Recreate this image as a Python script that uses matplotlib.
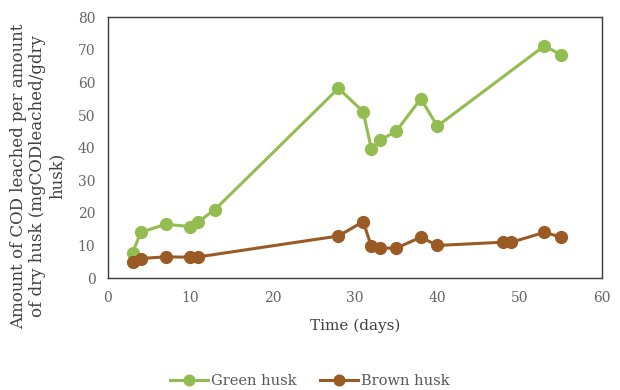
import matplotlib
matplotlib.use('Agg')
import matplotlib.pyplot as plt

# COD leached over time for the two husk types
green_days = [3, 4, 7, 10, 11, 13, 28, 31, 32, 33, 35, 38, 40, 53, 55]
green_cod = [7.8, 14.0, 16.5, 15.8, 17.3, 21.0, 58.2, 51.0, 39.5, 42.2, 45.0, 55.0, 46.6, 71.2, 68.5]

brown_days = [3, 4, 7, 10, 11, 28, 31, 32, 33, 35, 38, 40, 48, 49, 53, 55]
brown_cod = [5.0, 6.0, 6.5, 6.4, 6.5, 12.9, 17.3, 9.7, 9.2, 9.2, 12.5, 10.0, 11.0, 11.0, 14.0, 12.6]

x_ticks = [0, 10, 20, 30, 40, 50, 60]
y_ticks = [0, 10, 20, 30, 40, 50, 60, 70, 80]

GREEN = '#93BD50'
BROWN = '#9A5A24'
TEXT = '#404040'

plt.rcParams['font.family'] = ['DejaVu Serif']

fig = plt.figure(figsize=(6.2, 3.9), dpi=100)
ax = fig.add_axes([0.174, 0.287, 0.797, 0.669])

ax.plot(green_days, green_cod, color=GREEN, lw=2.2, marker='o', ms=8.5, label='Green husk')
ax.plot(brown_days, brown_cod, color=BROWN, lw=2.2, marker='o', ms=8.5, label='Brown husk')

ax.set_xlim(0, 60)
ax.set_ylim(0, 80)
ax.set_xticks(x_ticks)
ax.set_yticks(y_ticks)
ax.tick_params(length=0, labelsize=10, labelcolor='#666666', pad=9)
for sp in ax.spines.values():
    sp.set_color('#3a3a3a')
    sp.set_linewidth(1.0)

ax.set_xlabel('Time (days)', fontsize=11, color=TEXT, labelpad=10)
ax.set_ylabel('Amount of COD leached per amount\nof dry husk (mgCODleached/gdry\nhusk)',
              fontsize=12, color=TEXT, linespacing=1.2)
ax.yaxis.set_label_coords(-0.085, 0.39)

fig.legend(loc='center', bbox_to_anchor=(0.5, 0.022), ncol=2, frameon=False,
           fontsize=10.5, labelcolor='#595959', handlelength=2.6, handletextpad=0.2,
           columnspacing=1.6, markerscale=0.9)

fig.savefig('out.png', dpi=100)
